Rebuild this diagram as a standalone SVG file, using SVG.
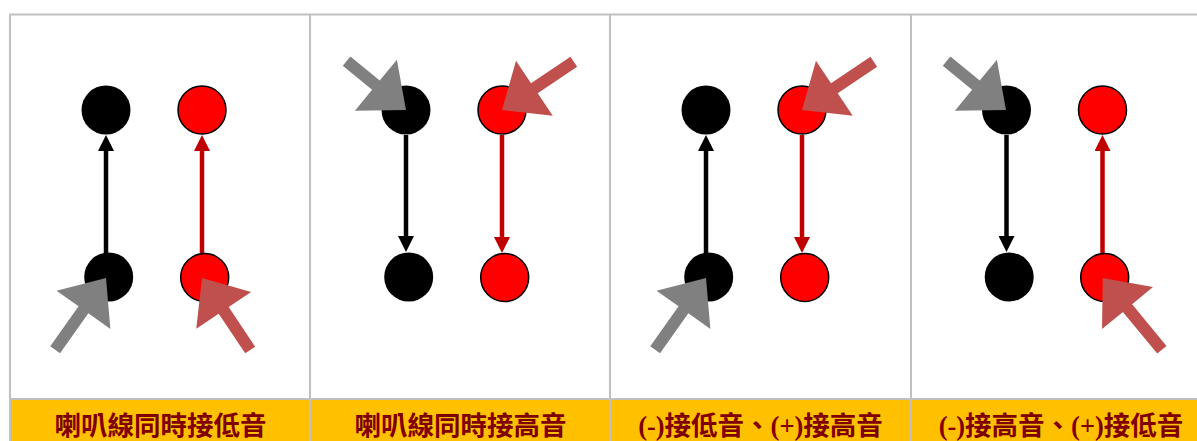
<svg xmlns="http://www.w3.org/2000/svg" width="1197" height="441" viewBox="0 0 1197 441">
<style>
.grid{stroke:#c0c0c0;stroke-width:2;fill:none}
.hdr{fill:#ffc000}
.lbl{font-family:"Liberation Serif","Noto Sans CJK TC",serif;font-size:26.5px;font-weight:bold;fill:#800000;text-anchor:middle}
.nb{fill:#000}
.nr{fill:#ff0000;stroke:#000;stroke-width:1.5}
.cb{stroke:#000;stroke-width:4.5;fill:none;marker-end:url(#mb)}
.cr{stroke:#c00000;stroke-width:4.5;fill:none;marker-end:url(#mr)}
.pg{fill:#808080}
.pr{fill:#c0504d}
</style>
<defs>
<marker id="mb" markerUnits="userSpaceOnUse" markerWidth="16" markerHeight="16" refX="0" refY="8" orient="auto" viewBox="0 0 16 16"><path d="M0,0 L16,8 L0,16 Z" fill="#000"/></marker>
<marker id="mr" markerUnits="userSpaceOnUse" markerWidth="16" markerHeight="16" refX="0" refY="8" orient="auto" viewBox="0 0 16 16"><path d="M0,0 L16,8 L0,16 Z" fill="#c00000"/></marker>
</defs>
<rect x="0" y="0" width="1197" height="441" fill="#fff"/>
<rect class="hdr" x="10" y="400" width="1187" height="41"/>
<g id="table">
<path class="grid" d="M10,14.5 H1197 M10,399 H1197 M10,14 V441 M310,14 V441 M610,14 V441 M911,14 V441"/>
</g>
<g id="labels">
<text class="lbl" x="160.5" y="434.5">喇叭線同時接低音</text>
<text class="lbl" x="460.5" y="434.5">喇叭線同時接高音</text>
<text class="lbl" x="760.5" y="434.5">(-)接低音、(+)接高音</text>
<text class="lbl" x="1061" y="434.5">(-)接高音、(+)接低音</text>
</g>
<g id="connectors">
<line class="cb" x1="106" y1="253" x2="106" y2="151"/>
<line class="cr" x1="202" y1="253" x2="202" y2="151"/>
<line class="cb" x1="406" y1="135" x2="406" y2="236"/>
<line class="cr" x1="502" y1="135" x2="502" y2="237"/>
<line class="cb" x1="706" y1="253" x2="706" y2="151"/>
<line class="cr" x1="802" y1="135" x2="802" y2="237"/>
<line class="cb" x1="1006.5" y1="135" x2="1006.5" y2="236"/>
<line class="cr" x1="1102.5" y1="253" x2="1102.5" y2="151"/>
</g>
<g id="c1-neg-top"><circle class="nb" cx="106" cy="110" r="24.5"/></g>
<g id="c1-pos-top"><circle class="nr" cx="202" cy="110" r="24"/></g>
<g id="c1-neg-bot"><circle class="nb" cx="108.7" cy="277" r="24.5"/></g>
<g id="c1-pos-bot"><circle class="nr" cx="204.7" cy="277.5" r="24"/></g>
<g id="c2-neg-top"><circle class="nb" cx="406" cy="110" r="24.5"/></g>
<g id="c2-pos-top"><circle class="nr" cx="502" cy="110" r="24"/></g>
<g id="c2-neg-bot"><circle class="nb" cx="408.7" cy="277" r="24.5"/></g>
<g id="c2-pos-bot"><circle class="nr" cx="504.7" cy="277.5" r="24"/></g>
<g id="c3-neg-top"><circle class="nb" cx="706" cy="110" r="24.5"/></g>
<g id="c3-pos-top"><circle class="nr" cx="802" cy="110" r="24"/></g>
<g id="c3-neg-bot"><circle class="nb" cx="708.7" cy="277" r="24.5"/></g>
<g id="c3-pos-bot"><circle class="nr" cx="804.7" cy="277.5" r="24"/></g>
<g id="c4-neg-top"><circle class="nb" cx="1006.5" cy="110" r="24.5"/></g>
<g id="c4-pos-top"><circle class="nr" cx="1102.5" cy="110" r="24"/></g>
<g id="c4-neg-bot"><circle class="nb" cx="1009.2" cy="277" r="24.5"/></g>
<g id="c4-pos-bot"><circle class="nr" cx="1104.7" cy="277.5" r="24"/></g>
<g id="pointers">
<path class="pg" transform="translate(106,278) rotate(125.3)" d="M0,0 L39,-33 L39,-6 L88,-6 L88,6 L39,6 L39,33 Z"/>
<path class="pr" transform="translate(202,278) rotate(56.2)" d="M0,0 L39,-33 L39,-6 L86.6,-6 L86.6,6 L39,6 L39,33 Z"/>
<path class="pg" transform="translate(406,110) rotate(-140.5)" d="M0,0 L39,-33 L39,-6 L77,-6 L77,6 L39,6 L39,33 Z"/>
<path class="pr" transform="translate(502,110) rotate(-33.9)" d="M0,0 L39,-33 L39,-6 L86.5,-6 L86.5,6 L39,6 L39,33 Z"/>
<path class="pg" transform="translate(706,278) rotate(125.3)" d="M0,0 L39,-33 L39,-6 L88,-6 L88,6 L39,6 L39,33 Z"/>
<path class="pr" transform="translate(802,110) rotate(-33.9)" d="M0,0 L39,-33 L39,-6 L86.5,-6 L86.5,6 L39,6 L39,33 Z"/>
<path class="pg" transform="translate(1006,110) rotate(-140.5)" d="M0,0 L39,-33 L39,-6 L77,-6 L77,6 L39,6 L39,33 Z"/>
<path class="pr" transform="translate(1102.7,278) rotate(50.5)" d="M0,0 L39,-33 L39,-6 L93,-6 L93,6 L39,6 L39,33 Z"/>
</g>
</svg>
